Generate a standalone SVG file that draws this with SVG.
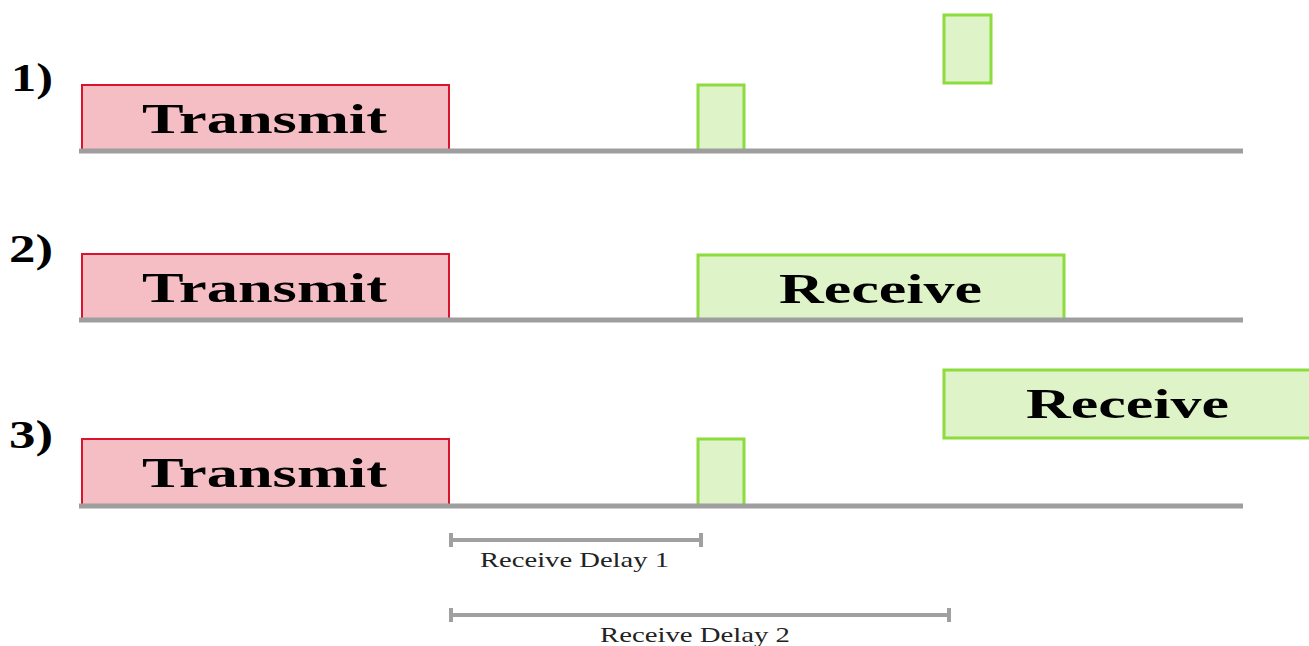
<svg xmlns="http://www.w3.org/2000/svg" width="1309" height="646" viewBox="0 0 1309 646">
<style>
.tx{fill:#f4bec4;stroke:#d9142c;stroke-width:2}
.rx{fill:#dff3c9;stroke:#8bdc3c;stroke-width:3}
.base{stroke:#9e9e9e;stroke-width:5;fill:none}
.br{stroke:#a0a0a0;stroke-width:4;fill:none}
.big{font-family:"Liberation Serif",serif;font-weight:bold;font-size:42px;fill:#000}
.num{font-family:"Liberation Serif",serif;font-weight:bold;font-size:40px;fill:#000}
.small{font-family:"Liberation Serif",serif;font-size:21px;fill:#222}
</style>
<rect width="1309" height="646" fill="#fff"/>
<g id="labels">
<text class="num" x="11" y="91" textLength="42" lengthAdjust="spacingAndGlyphs">1)</text>
<text class="num" x="9" y="262" textLength="44" lengthAdjust="spacingAndGlyphs">2)</text>
<text class="num" x="9" y="448" textLength="44" lengthAdjust="spacingAndGlyphs">3)</text>
</g>
<g id="row1">
<g id="tx1"><rect class="tx" x="82" y="85" width="367" height="66"/>
<text class="big" x="142" y="133" textLength="245" lengthAdjust="spacingAndGlyphs">Transmit</text></g>
<rect id="rx1a" class="rx" x="698" y="85" width="46" height="66"/>
<rect id="rx1b" class="rx" x="944" y="15" width="47" height="68"/>
</g>
<g id="row2">
<g id="tx2"><rect class="tx" x="82" y="254" width="367" height="66"/>
<text class="big" x="142" y="302" textLength="245" lengthAdjust="spacingAndGlyphs">Transmit</text></g>
<g id="rx2"><rect class="rx" x="698" y="255" width="366" height="65"/>
<text class="big" x="779" y="303" textLength="203" lengthAdjust="spacingAndGlyphs">Receive</text></g>
</g>
<g id="row3">
<g id="tx3"><rect class="tx" x="82" y="439" width="367" height="67"/>
<text class="big" x="142" y="487" textLength="245" lengthAdjust="spacingAndGlyphs">Transmit</text></g>
<rect id="rx3a" class="rx" x="698" y="439" width="46" height="67"/>
<g id="rx3b"><rect class="rx" x="944" y="370" width="368" height="68"/>
<text class="big" x="1026" y="418" textLength="203" lengthAdjust="spacingAndGlyphs">Receive</text></g>
</g>
<g id="connectors">
<line class="base" x1="79" y1="151" x2="1243" y2="151"/>
<line class="base" x1="79" y1="320" x2="1243" y2="320"/>
<line class="base" x1="79" y1="506" x2="1243" y2="506"/>
<g id="delay1">
<line class="br" x1="451" y1="540" x2="701" y2="540"/>
<line class="br" x1="451" y1="533" x2="451" y2="547"/>
<line class="br" x1="701" y1="533" x2="701" y2="547"/>
<text class="small" x="480" y="567" textLength="189" lengthAdjust="spacingAndGlyphs">Receive Delay 1</text>
</g>
<g id="delay2">
<line class="br" x1="451" y1="615" x2="949" y2="615"/>
<line class="br" x1="451" y1="608" x2="451" y2="622"/>
<line class="br" x1="949" y1="608" x2="949" y2="622"/>
<text class="small" x="600" y="642" textLength="190" lengthAdjust="spacingAndGlyphs">Receive Delay 2</text>
</g>
</g>
</svg>
